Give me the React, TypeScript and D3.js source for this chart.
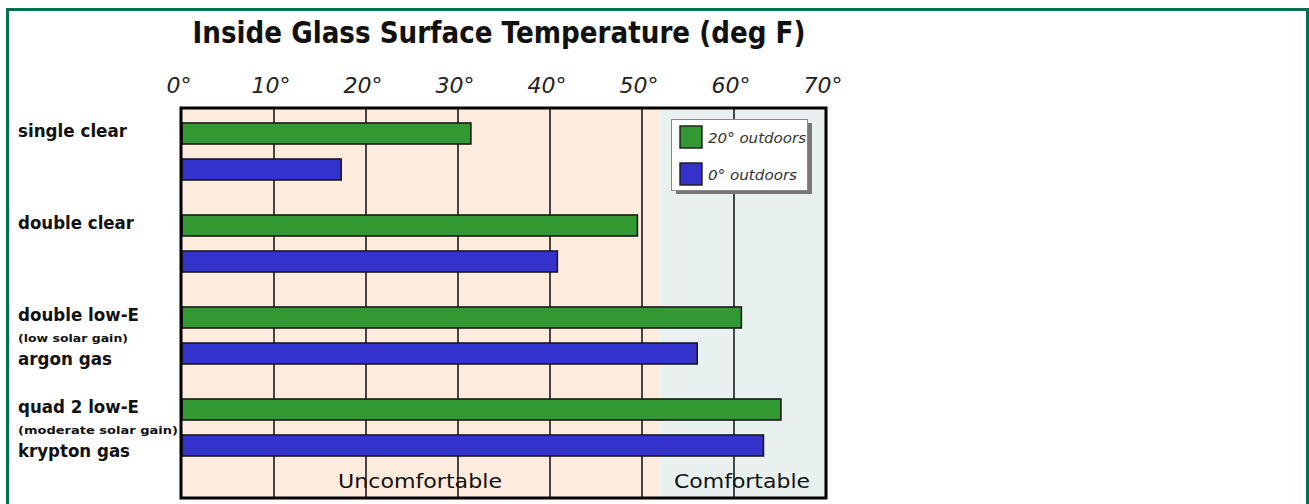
import React from "react";
import * as d3 from "d3";

const categories = ["single clear", "double clear", "double low-E", "quad 2 low-E"];
const labelLines = [
  [{ t: "single clear", small: false }],
  [{ t: "double clear", small: false }],
  [
    { t: "double low-E", small: false },
    { t: "(low solar gain)", small: true },
    { t: "argon gas", small: false },
  ],
  [
    { t: "quad 2 low-E", small: false },
    { t: "(moderate solar gain)", small: true },
    { t: "krypton gas", small: false },
  ],
];
const seriesNames = ["20° outdoors", "0° outdoors"];
const seriesColors = ["#339933", "#3333cc"];
const outdoors20 = [31.4, 49.5, 60.8, 65.1];
const outdoors0 = [17.3, 40.8, 56.0, 63.2];
const ticks = [0, 10, 20, 30, 40, 50, 60, 70];
const comfortStart = 52;

const W = 1309;
const H = 504;
const plot = { left: 182, right: 826, top: 108, bottom: 498 };
const font = "'DejaVu Sans', Verdana, sans-serif";
const lineOffsets = [0, 21, 44];

const labelWidths: Record<string, number> = {
  "single clear": 109,
  "double clear": 116,
  "double low-E": 121,
  "(low solar gain)": 110,
  "argon gas": 94,
  "quad 2 low-E": 121,
  "(moderate solar gain)": 160,
  "krypton gas": 112,
};

export default function App() {
  const x = d3.scaleLinear().domain([0, 70]).range([plot.left, plot.right]);
  const y = d3.scaleBand<string>().domain(categories).range([plot.top, plot.top + 92 * 4]);
  const sub = d3
    .scaleBand<string>()
    .domain(seriesNames)
    .range([15, 72])
    .paddingInner(0.4167);
  const values = [outdoors20, outdoors0];

  return (
    <div style={{ position: "fixed", left: 0, top: 0 }}>
      <svg width={W} height={H} style={{ display: "block", background: "#fff" }}>
        {/* outer frame */}
        <rect x={7.5} y={9.5} width={1300} height={600} fill="none" stroke="#00704f" strokeWidth={3} />

        <text
          x={499}
          y={43}
          textAnchor="middle"
          fontFamily={font}
          fontSize={30}
          fontWeight="bold"
          textLength={613}
          lengthAdjust="spacingAndGlyphs"
          fill="#111"
        >
          Inside Glass Surface Temperature (deg F)
        </text>

        {ticks.map((t) => (
          <text
            key={t}
            x={x(t) - 3}
            y={93}
            textAnchor="middle"
            fontFamily={font}
            fontSize={22}
            fontStyle="italic"
            fill="#222"
          >
            {t}°
          </text>
        ))}

        {/* background zones */}
        <rect
          x={x(0)}
          y={plot.top}
          width={x(comfortStart) - x(0)}
          height={plot.bottom - plot.top}
          fill="#fdebdd"
        />
        <rect
          x={x(comfortStart)}
          y={plot.top}
          width={x(70) - x(comfortStart)}
          height={plot.bottom - plot.top}
          fill="#e8f1ef"
        />

        {/* grid */}
        {ticks.slice(1, -1).map((t) => (
          <line
            key={t}
            x1={x(t)}
            x2={x(t)}
            y1={plot.top}
            y2={plot.bottom}
            stroke="#1a1a1a"
            strokeWidth={1.6}
          />
        ))}

        {/* bars */}
        {categories.map((c, i) =>
          seriesNames.map((s, j) => (
            <rect
              key={c + s}
              x={x(0)}
              y={(y(c) || 0) + (sub(s) || 0)}
              width={x(values[j][i]) - x(0)}
              height={sub.bandwidth()}
              fill={seriesColors[j]}
              stroke="#1a1a1a"
              strokeWidth={1.6}
            />
          ))
        )}

        <rect
          x={plot.left - 1}
          y={plot.top}
          width={plot.right - plot.left + 1}
          height={plot.bottom - plot.top}
          fill="none"
          stroke="#000"
          strokeWidth={3}
        />

        {/* category labels */}
        {categories.map((c, i) => {
          const lines = labelLines[i];
          const base = (y(c) || 0) + 29;
          return (
            <g key={c}>
              {lines.map((l, k) => (
                <text
                  key={l.t}
                  x={18}
                  y={base + (lines.length === 1 ? 0 : lineOffsets[k])}
                  fontFamily={font}
                  fontSize={l.small ? 11 : 17}
                  fontWeight="bold"
                  textLength={labelWidths[l.t]}
                  lengthAdjust="spacingAndGlyphs"
                  fill="#111"
                >
                  {l.t}
                </text>
              ))}
            </g>
          );
        })}

        {/* legend */}
        <rect x={676} y={123} width={136} height={71} fill="#777" />
        <rect x={671.5} y={119.5} width={136} height={71} fill="#fff" stroke="#888" strokeWidth={1} />
        {seriesNames.map((s, j) => (
          <g key={s}>
            <rect
              x={680}
              y={126 + j * 37}
              width={22}
              height={22}
              fill={seriesColors[j]}
              stroke="#1a1a1a"
              strokeWidth={1.4}
            />
            <text
              x={708}
              y={143 + j * 37}
              fontFamily={font}
              fontSize={14}
              fontStyle="italic"
              textLength={j === 0 ? 98 : 89}
              lengthAdjust="spacingAndGlyphs"
              fill="#333"
            >
              {s}
            </text>
          </g>
        ))}

        <text
          x={420}
          y={488}
          textAnchor="middle"
          fontFamily={font}
          fontSize={20}
          textLength={164}
          lengthAdjust="spacingAndGlyphs"
          fill="#111"
        >
          Uncomfortable
        </text>
        <text
          x={742}
          y={488}
          textAnchor="middle"
          fontFamily={font}
          fontSize={20}
          textLength={136}
          lengthAdjust="spacingAndGlyphs"
          fill="#111"
        >
          Comfortable
        </text>
      </svg>
    </div>
  );
}
